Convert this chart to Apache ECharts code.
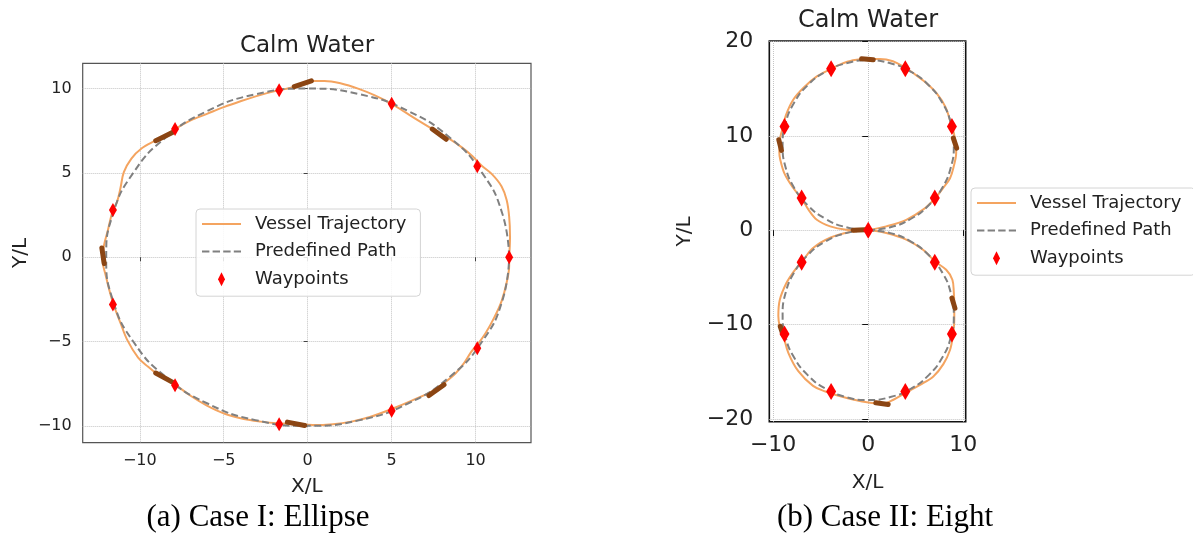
<!DOCTYPE html>
<html><head><meta charset="utf-8">
<script src="https://cdn.jsdelivr.net/npm/echarts@6/dist/echarts.min.js"></script>
<style>html,body{margin:0;padding:0;background:#fff}#c{width:1193px;height:534px}</style>
</head><body><div id="c"></div>
<script>
// ---------- Case I: Ellipse ----------
const ellipseTrajectory = [[12.0,0.0],[12.05,1.2],[12.0,2.4],[11.85,3.4],[11.55,4.2],[11.0,4.9],[10.4,5.4],[9.8,6.0],[9.2,6.5],[8.4,7.05],[7.6,7.5],[6.6,8.1],[5.8,8.6],[5.0,9.1],[4.0,9.6],[3.0,10.0],[2.0,10.3],[1.0,10.45],[0.3,10.45],[-0.4,10.25],[-1.0,10.05],[-1.8,9.88],[-2.9,9.6],[-4.0,9.25],[-5.0,8.9],[-6.0,8.5],[-7.0,8.1],[-7.9,7.6],[-8.5,7.2],[-9.1,6.9],[-9.9,6.45],[-10.5,5.85],[-10.95,5.05],[-11.15,4.1],[-11.35,3.3],[-11.6,2.8],[-11.9,1.6],[-12.15,0.6],[-12.2,-0.3],[-12.05,-1.0],[-11.8,-2.0],[-11.55,-2.85],[-11.15,-3.9],[-10.75,-4.9],[-10.1,-5.95],[-9.5,-6.5],[-9.0,-6.9],[-8.5,-7.2],[-7.9,-7.55],[-7.0,-8.2],[-6.0,-8.8],[-4.9,-9.3],[-3.8,-9.6],[-2.8,-9.75],[-1.8,-9.85],[-0.7,-9.9],[0.3,-9.95],[1.5,-9.9],[2.6,-9.75],[3.7,-9.48],[5.0,-9.0],[6.2,-8.5],[7.4,-7.95],[8.2,-7.4],[8.8,-6.9],[9.3,-6.3],[9.75,-5.6],[10.1,-5.2],[10.6,-4.5],[11.1,-3.6],[11.55,-2.6],[11.85,-1.5],[12.0,-0.5],[12.0,0.0]];
const ellipsePath = [[12,0],[11.59,2.59],[10.39,5],[8.49,7.07],[6,8.66],[3.11,9.66],[0,10],[-3.11,9.66],[-6,8.66],[-8.49,7.07],[-10.39,5],[-11.59,2.59],[-12,0],[-11.59,-2.59],[-10.39,-5],[-8.49,-7.07],[-6,-8.66],[-3.11,-9.66],[0,-10],[3.11,-9.66],[6,-8.66],[8.49,-7.07],[10.39,-5],[11.59,-2.59],[12,0]];
const ellipseWaypoints = [[12.0,0.0],[10.1,5.4],[5.0,9.1],[-1.7,9.9],[-7.9,7.6],[-11.6,2.8],[-11.6,-2.8],[-7.9,-7.6],[-1.7,-9.9],[5.0,-9.1],[10.1,-5.4]];
const ellipseHulls = [[[-0.8,10.12],[0.22,10.46]],[[-9.05,6.91],[-8.06,7.39]],[[-12.26,0.55],[-12.12,-0.38]],[[-9.05,-6.87],[-8.06,-7.41]],[[-1.21,-9.78],[-0.18,-9.98]],[[7.22,-8.2],[8.12,-7.56]],[[7.42,7.6],[8.25,6.99]]];
const ellipseXTicks = [-10,-5,0,5,10];
const ellipseYTicks = [-10,-5,0,5,10];

// ---------- Case II: Eight ----------
const eightTrajectory = [[0,0],[1.9,0.4],[4.0,1.1],[5.8,2.2],[7.0,3.35],[7.9,4.5],[8.6,5.5],[9.0,6.8],[9.25,8.2],[9.2,9.2],[9.0,10.3],[8.7,11.35],[8.1,13.1],[7.2,14.5],[6.1,15.6],[4.8,16.6],[3.9,17.2],[2.6,17.9],[1.2,18.15],[0.0,18.15],[-1.6,18.0],[-3.0,17.55],[-3.9,17.1],[-5.4,16.3],[-6.8,15.1],[-7.9,13.8],[-8.65,12.2],[-8.95,11.0],[-9.25,9.8],[-9.35,8.3],[-9.25,7.5],[-8.8,6.0],[-7.9,4.5],[-7.0,3.35],[-6.3,2.2],[-5.4,1.1],[-4.0,0.4],[-2.3,0.05],[-1.0,0.0],[0,0],[1.9,-0.3],[4.0,-1.0],[5.8,-2.1],[7.0,-3.3],[8.2,-4.2],[8.85,-5.25],[9.0,-6.6],[9.05,-8.0],[9.05,-9.5],[8.9,-11.2],[8.6,-12.7],[7.9,-14.2],[6.85,-15.5],[5.45,-16.4],[3.9,-17.25],[2.6,-18.0],[1.4,-18.4],[0.2,-18.3],[-1.6,-17.95],[-3.3,-17.5],[-4.5,-17.1],[-5.8,-16.5],[-7.35,-14.95],[-8.4,-13.0],[-8.95,-11.1],[-9.3,-10.2],[-9.45,-9.1],[-9.3,-7.4],[-8.6,-5.6],[-7.7,-4.2],[-7.0,-3.4],[-5.8,-1.9],[-4.0,-0.8],[-1.9,-0.2],[0,0]];
const eightPath = [[0,0],[2.33,0.31],[4.5,1.21],[6.36,2.64],[7.79,4.5],[8.69,6.67],[9,9],[8.69,11.33],[7.79,13.5],[6.36,15.36],[4.5,16.79],[2.33,17.69],[0,18],[-2.33,17.69],[-4.5,16.79],[-6.36,15.36],[-7.79,13.5],[-8.69,11.33],[-9,9],[-8.69,6.67],[-7.79,4.5],[-6.36,2.64],[-4.5,1.21],[-2.33,0.31],[0,0],[2.33,-0.31],[4.5,-1.21],[6.36,-2.64],[7.79,-4.5],[8.69,-6.67],[9,-9],[8.69,-11.33],[7.79,-13.5],[6.36,-15.36],[4.5,-16.79],[2.33,-17.69],[0,-18],[-2.33,-17.69],[-4.5,-16.79],[-6.36,-15.36],[-7.79,-13.5],[-8.69,-11.33],[-9,-9],[-8.69,-6.67],[-7.79,-4.5],[-6.36,-2.64],[-4.5,-1.21],[-2.33,-0.31],[0,0]];
const eightWaypoints = [[0,0],[7.0,3.4],[8.8,11.0],[3.9,17.1],[-3.9,17.1],[-8.8,11.0],[-7.0,3.4],[7.0,-3.4],[8.8,-11.0],[3.9,-17.1],[-3.9,-17.1],[-8.8,-11.0],[-7.0,-3.4]];
const eightHulls = [[[-0.7,18.16],[0.53,18.06]],[[-9.4,9.58],[-9.12,8.46]],[[8.95,9.76],[9.3,8.7]],[[-1.58,0.0],[-0.35,0.05]],[[8.8,-7.2],[9.12,-8.26]],[[0.8,-18.3],[2.1,-18.48]],[[-9.25,-10.2],[-8.95,-11.1]]];
const eightXTicks = [-10,0,10];
const eightYTicks = [-20,-10,0,10,20];

const FONT = 'DejaVu Sans';
const fmt = v => (v < 0 ? '\u2212' + Math.abs(v) : String(v));
const diamondIcon = 'path://M0,0L4,8L0,16L-4,8Z';
const solidIcon = 'path://M0,0H39V2H0Z';
const dashedIcon = 'path://M0,0H7.4V2H0Z M10.6,0H18V2H10.6Z M21.2,0H28.6V2H21.2Z M31.8,0H39V2H31.8Z';

function flattenHulls(h) {
  const out = [];
  h.forEach((seg, i) => { if (i) out.push(['-', '-']); out.push(seg[0], seg[1]); });
  return out;
}

function axis(gi, min, max, ticks, opts) {
  return {
    type: 'value', gridIndex: gi, min: min, max: max, splitNumber: opts.splitNumber,
    axisLine: { show: false },
    axisTick: { show: true, customValues: ticks, length: opts.tickLen, lineStyle: { color: opts.frame, width: 1 } },
    axisLabel: { customValues: ticks, formatter: fmt, fontSize: opts.fontSize, fontFamily: FONT, color: '#222', margin: opts.margin },
    splitLine: { show: true, lineStyle: { type: 'dotted', color: '#c4c4c4', width: 1 } },
    name: opts.name, nameLocation: 'middle', nameGap: opts.nameGap,
    nameTextStyle: { fontSize: 20, fontFamily: FONT, color: '#222' }
  };
}

function seriesFor(gi, traj, path, hulls, wps, wpSize) {
  return [
    { name: 'Vessel Trajectory', type: 'line', xAxisIndex: gi, yAxisIndex: gi, data: traj, smooth: 0.35, showSymbol: false, symbol: 'none',
      lineStyle: { color: '#F4A460', width: 2 }, itemStyle: { color: '#F4A460' }, z: 2 },
    { name: 'Predefined Path', type: 'line', xAxisIndex: gi, yAxisIndex: gi, data: path, smooth: 0.5, showSymbol: false, symbol: 'none',
      lineStyle: { color: '#808080', width: 2, type: [7, 3.5] }, itemStyle: { color: '#808080' }, z: 3 },
    { name: 'hull', type: 'line', xAxisIndex: gi, yAxisIndex: gi, data: flattenHulls(hulls), showSymbol: false, symbol: 'none', connectNulls: false,
      lineStyle: { color: '#8B4513', width: 5, cap: 'round' }, z: 4 },
    { name: 'Waypoints', type: 'scatter', xAxisIndex: gi, yAxisIndex: gi, data: wps, symbol: 'diamond', symbolSize: wpSize,
      itemStyle: { color: '#ff0000', opacity: 1 }, z: 5 }
  ];
}

function legendAt(left, top) {
  return {
    orient: 'vertical', left: left, top: top, itemWidth: 39, itemHeight: 14, itemGap: 9.6,
    padding: [6, 14, 8, 6], borderColor: '#d4d4d4', borderWidth: 1, borderRadius: 4,
    backgroundColor: 'rgba(255,255,255,0.85)', selectedMode: false,
    textStyle: { fontSize: 18, fontFamily: FONT, color: '#222', padding: [0, 0, 0, 9] },
    data: [
      { name: 'Vessel Trajectory', icon: solidIcon, itemStyle: { color: '#F4A460', borderWidth: 0 } },
      { name: 'Predefined Path', icon: dashedIcon, itemStyle: { color: '#808080', borderWidth: 0 } },
      { name: 'Waypoints', icon: diamondIcon, itemStyle: { color: '#ff0000', opacity: 1 } }
    ]
  };
}

function txt(text, x, y, font, color) {
  return { type: 'text', x: x, y: y, silent: true,
    style: { text: text, font: font, fill: color || '#222', textAlign: 'center', textVerticalAlign: 'middle', align: 'center', verticalAlign: 'middle' } };
}

const chart = echarts.init(document.getElementById('c'), null, { renderer: 'canvas' });
chart.setOption({
  animation: false,
  backgroundColor: '#fff',
  grid: [
    { left: 82.7, top: 63.3, width: 448.3, height: 379.4, show: true, borderColor: '#555', borderWidth: 1.2, backgroundColor: 'transparent', containLabel: false },
    { left: 769.3, top: 41, width: 196.4, height: 380.7, show: true, borderColor: '#111', borderWidth: 1.6, backgroundColor: 'transparent', containLabel: false }
  ],
  xAxis: [
    axis(0, -13.4, 13.3, ellipseXTicks, { splitNumber: 5, tickLen: 4, frame: '#444', fontSize: 16, margin: 10, name: 'X/L', nameGap: 34 }),
    axis(1, -10.4, 10.25, eightXTicks, { splitNumber: 2, tickLen: 6, frame: '#111', fontSize: 22, margin: 13, name: 'X/L', nameGap: 51 })
  ],
  yAxis: [
    axis(0, -11.0, 11.5, ellipseYTicks, { splitNumber: 5, tickLen: 4, frame: '#444', fontSize: 16, margin: 11, name: 'Y/L', nameGap: 52 }),
    axis(1, -20.3, 20.05, eightYTicks, { splitNumber: 4, tickLen: 6, frame: '#111', fontSize: 22, margin: 16, name: 'Y/L', nameGap: 75 })
  ],
  legend: [legendAt(196, 209), legendAt(971, 188)],
  series: [].concat(
    seriesFor(0, ellipseTrajectory, ellipsePath, ellipseHulls, ellipseWaypoints, [8, 14]),
    seriesFor(1, eightTrajectory, eightPath, eightHulls, eightWaypoints, [10, 17])
  ),
  graphic: [
    txt('Calm Water', 307, 46, '23px "DejaVu Sans"'),
    txt('Calm Water', 868, 21, '24px "DejaVu Sans"'),
    txt('(a) Case I: Ellipse', 258, 518, '31px "Liberation Serif"', '#000'),
    txt('(b) Case II: Eight', 885, 518, '31px "Liberation Serif"', '#000')
  ]
});
</script></body></html>
